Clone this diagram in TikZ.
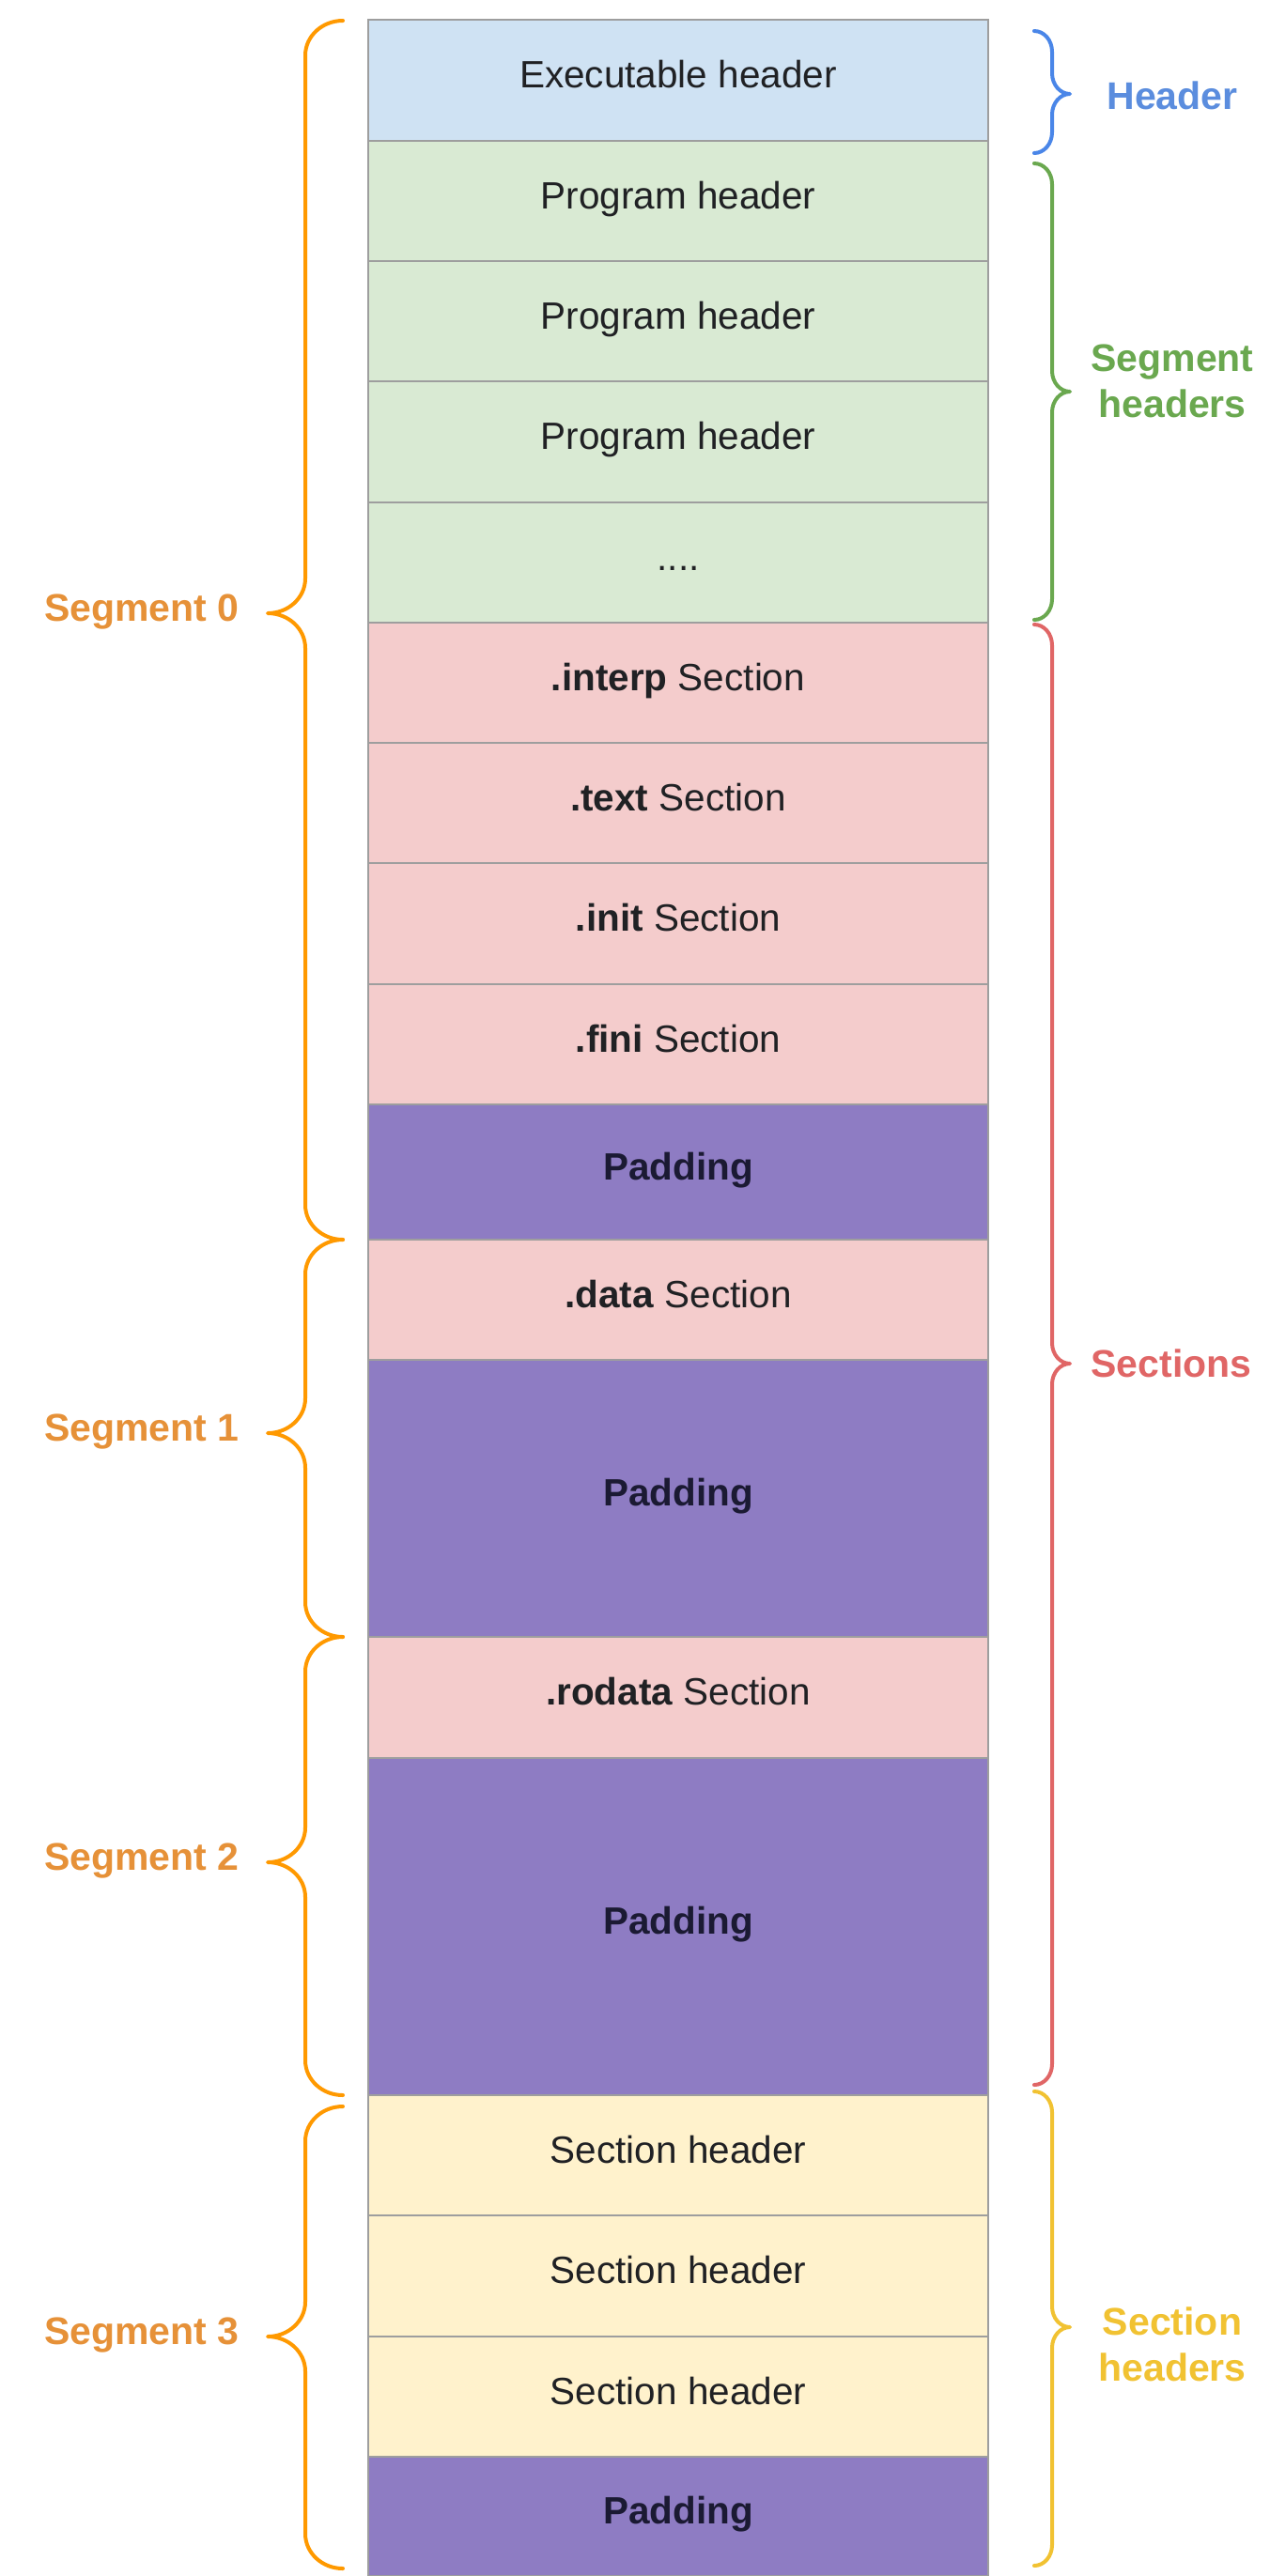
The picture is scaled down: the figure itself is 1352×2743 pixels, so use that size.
\documentclass[tikz,border=0pt]{standalone}
\usepackage{fontspec}
\setmainfont{Liberation Sans}
\definecolor{cblue}{HTML}{CFE2F3}
\definecolor{cgreen}{HTML}{D9EAD3}
\definecolor{cpink}{HTML}{F4CCCC}
\definecolor{cpurple}{HTML}{8E7CC3}
\definecolor{cyellow}{HTML}{FFF2CC}
\definecolor{cborder}{HTML}{9E9E9E}
\definecolor{ctext}{HTML}{202124}
\definecolor{cpadtext}{HTML}{1B1A33}
\definecolor{borange}{HTML}{FF9900}
\definecolor{torange}{HTML}{E69138}
\definecolor{bblue}{HTML}{4A86E8}
\definecolor{tblue}{HTML}{5B8DDE}
\definecolor{bgreen}{HTML}{6AA84F}
\definecolor{tgreen}{HTML}{6AA84F}
\definecolor{bred}{HTML}{E06666}
\definecolor{tred}{HTML}{E06666}
\definecolor{byellow}{HTML}{F1C232}
\definecolor{tyellow}{HTML}{F1C232}
\tikzset{
  memcell/.style={draw=cborder, line width=1.2pt, minimum width=330pt, inner sep=0pt,
    text height=10pt, text depth=2pt, font=\fontsize{20.25}{24}\selectfont, text=ctext},
  padcell/.style={memcell, fill=cpurple, text=cpadtext, font=\fontsize{20.25}{24}\selectfont\bfseries},
  lbl/.style={font=\fontsize{20.5}{24.5}\selectfont\bfseries, inner sep=0pt, anchor=base, align=center},
  bracestyle/.style={line width=2pt, line cap=round, line join=round}
}
% #1 v, #2 side sign, #3 rx, #4 ry, #5 y1, #6 ytip, #7 y2, #8 colour
\newcommand{\dobrace}[8]{%
  \draw[bracestyle,draw=#8]
    ({#1-(#2)*(#3)},#5) .. controls ({#1-(#2)*0.448*(#3)},#5) and (#1,{#5+0.448*(#4)}) .. (#1,{#5+#4})
    -- (#1,{#6-#4})
    .. controls (#1,{#6-0.448*(#4)}) and ({#1+(#2)*0.448*(#3)},#6) .. ({#1+(#2)*(#3)},#6)
    .. controls ({#1+(#2)*0.448*(#3)},#6) and (#1,{#6+0.448*(#4)}) .. (#1,{#6+#4})
    -- (#1,{#7-#4})
    .. controls (#1,{#7-0.448*(#4)}) and ({#1-(#2)*0.448*(#3)},#7) .. ({#1-(#2)*(#3)},#7);}
\begin{document}
\begin{tikzpicture}[x=0.5pt,y=-0.5pt]
\useasboundingbox[fill=white] (0,0) rectangle (1352,2743);
% memory cells
\node[memcell, fill=cblue,  minimum height=64.5pt] (exe)    at (722,85.5)   {Executable header};
\node[memcell, fill=cgreen, minimum height=64pt]   (ph1)    at (722,214)    {Program header};
\node[memcell, fill=cgreen, minimum height=64pt]   (ph2)    at (722,342)    {Program header};
\node[memcell, fill=cgreen, minimum height=64.5pt] (ph3)    at (722,470.5)  {Program header};
\node[memcell, fill=cgreen, minimum height=64pt]   (phdots) at (722,599)    {....};
\node[memcell, fill=cpink,  minimum height=64pt]   (interp) at (722,727)    {\textbf{.interp} Section};
\node[memcell, fill=cpink,  minimum height=64pt]   (text)   at (722,855)    {\textbf{.text} Section};
\node[memcell, fill=cpink,  minimum height=64.5pt] (init)   at (722,983.5)  {\textbf{.init} Section};
\node[memcell, fill=cpink,  minimum height=64pt]   (fini)   at (722,1112)   {\textbf{.fini} Section};
\node[padcell, minimum height=72pt]                (pad0)   at (722,1248)   {Padding};
\node[memcell, fill=cpink,  minimum height=64pt]   (data)   at (722,1384)   {\textbf{.data} Section};
\node[padcell, minimum height=147.5pt]             (pad1)   at (722,1595.5) {Padding};
\node[memcell, fill=cpink,  minimum height=64.5pt] (rodata) at (722,1807.5) {\textbf{.rodata} Section};
\node[padcell, minimum height=179.5pt]             (pad2)   at (722,2051.5) {Padding};
\node[memcell, fill=cyellow, minimum height=64pt]  (sh1)    at (722,2295)   {Section header};
\node[memcell, fill=cyellow, minimum height=64.5pt](sh2)    at (722,2423.5) {Section header};
\node[memcell, fill=cyellow, minimum height=64pt]  (sh3)    at (722,2552)   {Section header};
\node[padcell, minimum height=63.5pt]              (pad3)   at (722,2679.5) {Padding};
% left braces (segments)
\dobrace{325}{-1}{40}{37}{22}{653}{1320}{borange}
\dobrace{325}{-1}{40}{37}{1320}{1526}{1743}{borange}
\dobrace{325}{-1}{40}{37}{1743}{1983}{2231}{borange}
\dobrace{325}{-1}{40}{37}{2243}{2488}{2735}{borange}
\node[lbl, text=torange] (seg0) at (151,661)  {Segment 0};
\node[lbl, text=torange] (seg1) at (151,1534) {Segment 1};
\node[lbl, text=torange] (seg2) at (151,1991) {Segment 2};
\node[lbl, text=torange] (seg3) at (151,2496) {Segment 3};
% right braces
\dobrace{1120}{1}{19}{22}{33}{100}{163}{bblue}
\dobrace{1120}{1}{19}{22}{174}{417}{660}{bgreen}
\dobrace{1120}{1}{19}{22}{665}{1452}{2220}{bred}
\dobrace{1120}{1}{19}{22}{2227}{2478}{2732}{byellow}
\node[lbl, text=tblue] (hdr) at (1248,116) {Header};
\node[lbl, text=tgreen, anchor=center] (seghdr) at (1248,405.5) {Segment\\headers};
\node[lbl, text=tred] (sects) at (1247,1466) {Sections};
\node[lbl, text=tyellow, anchor=center] (secthdr) at (1248,2496) {Section\\headers};
\end{tikzpicture}
\end{document}
